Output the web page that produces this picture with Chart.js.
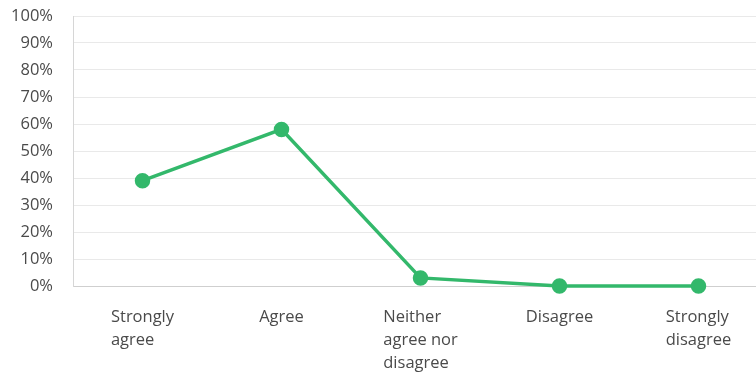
<!DOCTYPE html>
<html>
<head>
<meta charset="utf-8">
<script src="https://cdn.jsdelivr.net/npm/chart.js@4/dist/chart.umd.min.js"></script>
<style>
    html, body { margin: 0; padding: 0; background: #fff; overflow: hidden; }
    #answersChart { display: block; }
</style>
</head>
<body>
<canvas id="answersChart" width="768" height="372"></canvas>

<script>
    const answers = [
        ["Strongly", "agree"],
        "Agree",
        ["Neither", "agree nor", "disagree"],
        "Disagree",
        ["Strongly", "disagree"]
    ];
    const percents = [39, 58, 3, 0, 0];
    const yTicks = [0, 10, 20, 30, 40, 50, 60, 70, 80, 90, 100];

    const green = "#33b86b";
    const textColor = "#4a4a4a";
    const fontFamily = "'Open Sans', 'Noto Sans', sans-serif";

    // x labels: each block centred on its point, lines left-aligned inside it
    const answerLabels = {
        id: "answerLabels",
        afterDraw(chart){
            const ctx = chart.ctx;
            const xScale = chart.scales.x;
            ctx.save();
            ctx.font = "16.5px " + fontFamily;
            ctx.fillStyle = textColor;
            ctx.textAlign = "left";
            ctx.textBaseline = "middle";
            answers.forEach((label, i) => {
                const lines = Array.isArray(label) ? label : [label];
                const widest = Math.max(...lines.map(l => ctx.measureText(l).width));
                const x = xScale.getPixelForTick(i) - widest / 2;
                lines.forEach((line, j) => {
                    ctx.fillText(line, x, xScale.top + 31 + j * 23);
                });
            });
            ctx.restore();
        }
    };

    new Chart(document.getElementById("answersChart"), {
        type: "line",
        data: {
            labels: answers,
            datasets: [{
                data: percents,
                borderColor: green,
                backgroundColor: green,
                borderWidth: 3.5,
                pointRadius: 6,
                pointHoverRadius: 6,
                tension: 0,
                clip: false
            }]
        },
        options: {
            responsive: false,
            animation: false,
            layout: { autoPadding: false, padding: { top: 16, right: 0, left: 0, bottom: 0 } },
            plugins: {
                legend: { display: false },
                tooltip: { enabled: false }
            },
            scales: {
                x: {
                    offset: true,
                    grid: { display: false, drawTicks: false },
                    border: { color: "#cfcfcf", width: 1 },
                    ticks: { display: false },
                    afterFit(scale){ scale.height = 86; }
                },
                y: {
                    min: 0,
                    max: 100,
                    afterBuildTicks(scale){
                        scale.ticks = yTicks.map(v => ({ value: v }));
                    },
                    grid: { color: "#e9e9e9", drawTicks: false },
                    border: { color: "#d6d6d6", width: 1 },
                    ticks: {
                        padding: 20,
                        color: textColor,
                        font: { family: fontFamily, size: 16.5 },
                        callback: v => v + "%"
                    },
                    afterFit(scale){
                        scale.width = 73;
                        scale.paddingTop = 0;
                        scale.paddingBottom = 0;
                    }
                }
            }
        },
        plugins: [answerLabels]
    });
</script>
</body>
</html>
